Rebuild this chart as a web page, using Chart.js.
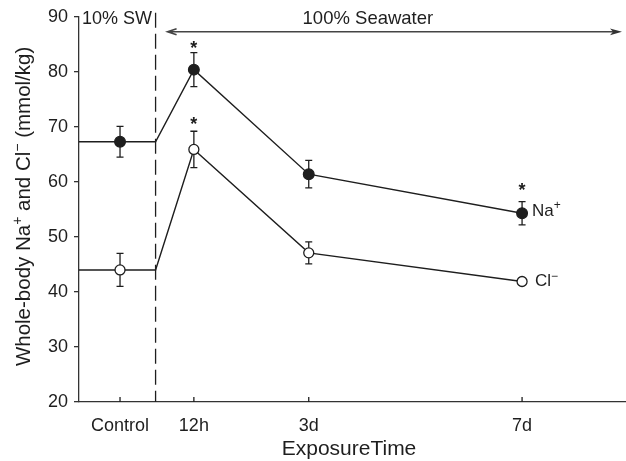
<!DOCTYPE html>
<html>
<head>
<meta charset="utf-8">
<script src="https://cdn.jsdelivr.net/npm/chart.js@4.4.1/dist/chart.umd.min.js"></script>
<style>
  html, body { margin: 0; padding: 0; background: #fff; overflow: hidden; }
  canvas { display: block; }
</style>
</head>
<body>
<canvas id="ionChart" width="626" height="461"></canvas>
<script>
// sampling times, their place on the x axis and their labels
const timeLabels = ['Control', '12h', '3d', '7d'];
const timePos = [0.75, 2.1, 4.2, 8.1];
const transferPos = 1.4; // transfer from 10% SW to 100% seawater
const xMin = 0;
const xMax = 10;

// whole-body Na+ (mmol/kg): mean, error, where a * sits
const naMean = [67.3, 80.4, 61.4, 54.3];
const naErr = [2.8, 3.1, 2.5, 2.1];
const naStar = [null, 85.1, null, 59.3];

// whole-body Cl- (mmol/kg)
const clMean = [44.0, 65.9, 47.1, 41.9];
const clErr = [3.0, 3.3, 2.0, 0.4];
const clStar = [null, 71.2, null, null];

const yTicks = [20, 30, 40, 50, 60, 70, 80, 90];

const INK = '#1e1e1e';
const FONT = '"Liberation Sans", Arial, Helvetica, sans-serif';

// line: flat from the axis to the transfer line, then through the sampling points
function lineData(mean) {
    const pts = [{ x: xMin, y: mean[0] }, { x: transferPos, y: mean[0] }];
    for (let i = 1; i < mean.length; i++) {
        pts.push({ x: timePos[i], y: mean[i] });
    }
    return pts;
}

function pointData(mean) {
    return mean.map((v, i) => ({ x: timePos[i], y: v }));
}

// draws the text pieces one after another, raising the superscripts
function drawPieces(ctx, pieces, x, y, size) {
    let cx = x;
    pieces.forEach(p => {
        const fs = p.sup ? Math.round(size * 0.68) : size;
        ctx.font = fs + 'px ' + FONT;
        ctx.fillText(p.t, cx, p.sup ? y - size * 0.4 : y);
        cx += ctx.measureText(p.t).width;
    });
}

function piecesWidth(ctx, pieces, size) {
    let w = 0;
    pieces.forEach(p => {
        const fs = p.sup ? Math.round(size * 0.68) : size;
        ctx.font = fs + 'px ' + FONT;
        w += ctx.measureText(p.t).width;
    });
    return w;
}

const decorPlugin = {
    id: 'decor',
    beforeDatasetsDraw(chart) {
        const ctx = chart.ctx;
        const xs = chart.scales.x;
        const ys = chart.scales.y;
        const area = chart.chartArea;
        ctx.save();
        ctx.strokeStyle = INK;
        ctx.lineWidth = 1.3;

        // transfer line
        const tx = xs.getPixelForValue(transferPos);
        ctx.setLineDash([15, 6]);
        ctx.beginPath();
        ctx.moveTo(tx, area.top - 4);
        ctx.lineTo(tx, area.bottom);
        ctx.stroke();
        ctx.setLineDash([]);

        // x tick marks point into the plot
        timePos.forEach(v => {
            const px = xs.getPixelForValue(v);
            ctx.beginPath();
            ctx.moveTo(px, area.bottom);
            ctx.lineTo(px, area.bottom - 5);
            ctx.stroke();
        });

        // error bars
        [[naMean, naErr], [clMean, clErr]].forEach(([mean, err]) => {
            mean.forEach((m, i) => {
                const px = xs.getPixelForValue(timePos[i]);
                const top = ys.getPixelForValue(m + err[i]);
                const bot = ys.getPixelForValue(m - err[i]);
                ctx.beginPath();
                ctx.moveTo(px, top);
                ctx.lineTo(px, bot);
                ctx.moveTo(px - 3.5, top);
                ctx.lineTo(px + 3.5, top);
                ctx.moveTo(px - 3.5, bot);
                ctx.lineTo(px + 3.5, bot);
                ctx.stroke();
            });
        });

        // 100% seawater arrow
        const ay = area.top + 15;
        const ax0 = tx + 12;
        const ax1 = area.right - 4;
        ctx.strokeStyle = '#444';
        ctx.lineWidth = 1.6;
        ctx.beginPath();
        ctx.moveTo(ax0, ay);
        ctx.lineTo(ax1 - 4, ay);
        ctx.moveTo(ax0 + 9, ay - 3);
        ctx.lineTo(ax0, ay);
        ctx.lineTo(ax0 + 9, ay + 3);
        ctx.stroke();
        ctx.fillStyle = '#333';
        ctx.beginPath();
        ctx.moveTo(ax1, ay);
        ctx.lineTo(ax1 - 12, ay - 3.4);
        ctx.lineTo(ax1 - 9, ay);
        ctx.lineTo(ax1 - 12, ay + 3.4);
        ctx.closePath();
        ctx.fill();

        // top labels
        ctx.fillStyle = INK;
        ctx.font = '18px ' + FONT;
        ctx.textBaseline = 'alphabetic';
        ctx.textAlign = 'left';
        ctx.fillText('10% SW', area.left + 3, area.top + 7);
        ctx.font = '18.5px ' + FONT;
        ctx.fillText('100% Seawater', ax0 + 135, area.top + 7.5);
        ctx.restore();
    },
    afterDatasetsDraw(chart) {
        const ctx = chart.ctx;
        const xs = chart.scales.x;
        const ys = chart.scales.y;
        ctx.save();
        ctx.fillStyle = INK;
        ctx.textAlign = 'center';
        ctx.textBaseline = 'alphabetic';
        ctx.font = 'bold 18px ' + FONT;
        [naStar, clStar].forEach(stars => {
            stars.forEach((s, i) => {
                if (s === null) return;
                ctx.fillText('*', xs.getPixelForValue(timePos[i]), ys.getPixelForValue(s) + 10);
            });
        });

        // series names beside the last points
        ctx.textAlign = 'left';
        const last = timePos.length - 1;
        const lx = xs.getPixelForValue(timePos[last]);
        drawPieces(ctx, [{ t: 'Na' }, { t: '+', sup: true }], lx + 10,
            ys.getPixelForValue(naMean[last]) + 3, 17);
        drawPieces(ctx, [{ t: 'Cl' }, { t: '\u2212', sup: true }], lx + 13,
            ys.getPixelForValue(clMean[last]) + 5, 17);
        ctx.restore();
    },
    afterDraw(chart) {
        const ctx = chart.ctx;
        const area = chart.chartArea;
        ctx.save();
        ctx.fillStyle = INK;
        ctx.textBaseline = 'alphabetic';

        // x title
        ctx.textAlign = 'center';
        ctx.font = '21px ' + FONT;
        ctx.fillText('ExposureTime', 349, area.bottom + 53);

        // y title
        const pieces = [
            { t: 'Whole-body Na' }, { t: '+', sup: true },
            { t: ' and Cl' }, { t: '\u2212', sup: true },
            { t: ' (mmol/kg)' }
        ];
        const size = 20.5;
        const w = piecesWidth(ctx, pieces, size);
        ctx.translate(30, (area.top + area.bottom) / 2 - 3);
        ctx.rotate(-Math.PI / 2);
        ctx.textAlign = 'left';
        drawPieces(ctx, pieces, -w / 2, 0, size);
        ctx.restore();
    }
};

new Chart(document.getElementById('ionChart'), {
    type: 'scatter',
    data: {
        datasets: [
            {
                label: 'Na+',
                data: pointData(naMean),
                pointRadius: 5.4,
                pointBackgroundColor: INK,
                pointBorderColor: INK,
                pointBorderWidth: 1.2
            },
            {
                label: 'Cl-',
                data: pointData(clMean),
                pointRadius: 5,
                pointBackgroundColor: '#fff',
                pointBorderColor: INK,
                pointBorderWidth: 1.3
            },
            {
                label: 'Na+ line',
                data: lineData(naMean),
                showLine: true,
                pointRadius: 0,
                borderColor: INK,
                borderWidth: 1.4
            },
            {
                label: 'Cl- line',
                data: lineData(clMean),
                showLine: true,
                pointRadius: 0,
                borderColor: INK,
                borderWidth: 1.4
            }
        ]
    },
    options: {
        responsive: false,
        animation: false,
        layout: {
            autoPadding: false,
            padding: { top: 16, right: 0, bottom: 0, left: 0 }
        },
        plugins: {
            legend: { display: false },
            tooltip: { enabled: false }
        },
        scales: {
            x: {
                type: 'linear',
                min: xMin,
                max: xMax,
                afterBuildTicks: scale => {
                    scale.ticks = timePos.map(v => ({ value: v }));
                },
                afterFit: scale => {
                    scale.height = 59;
                    scale.paddingLeft = 0;
                    scale.paddingRight = 0;
                },
                ticks: {
                    callback: (value, index) => timeLabels[index],
                    font: { family: FONT, size: 18 },
                    color: INK,
                    padding: 5,
                    maxRotation: 0,
                    autoSkip: false
                },
                grid: { display: false },
                border: { display: true, color: '#333', width: 1.3 }
            },
            y: {
                min: 20,
                max: 90,
                afterBuildTicks: scale => {
                    scale.ticks = yTicks.map(v => ({ value: v }));
                },
                afterFit: scale => { scale.width = 79; },
                ticks: {
                    font: { family: FONT, size: 18 },
                    color: INK,
                    padding: 6
                },
                grid: {
                    display: true,
                    drawOnChartArea: false,
                    drawTicks: true,
                    tickLength: 5,
                    color: '#333',
                    lineWidth: 1.3
                },
                border: { display: true, color: '#333', width: 1.3 }
            }
        }
    },
    plugins: [decorPlugin]
});
</script>
</body>
</html>
